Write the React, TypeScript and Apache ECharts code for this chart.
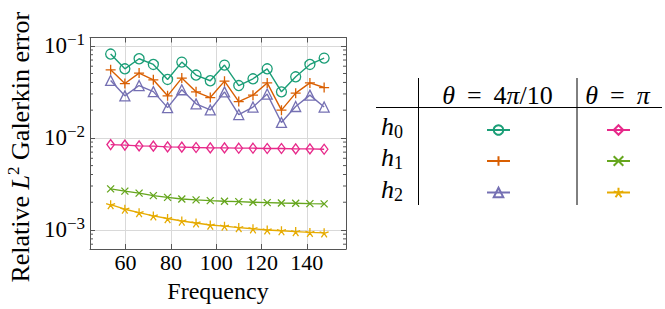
import React, { useEffect, useRef } from 'react';
import * as echarts from 'echarts';

const FONT = "'Liberation Serif', 'Times New Roman', serif";

const frequencies = [53.41, 59.69, 65.97, 72.26, 78.54, 84.82, 91.11, 97.39, 103.67, 109.96, 116.24, 122.52, 128.81, 135.09, 141.37, 147.65];

const h0Theta4 = [0.0813, 0.0562, 0.0723, 0.0627, 0.0431, 0.0665, 0.0481, 0.0417, 0.0617, 0.037, 0.0438, 0.0562, 0.0316, 0.046, 0.0627, 0.0735];
const h1Theta4 = [0.0548, 0.0389, 0.0505, 0.0427, 0.0286, 0.0446, 0.0316, 0.0274, 0.0413, 0.0248, 0.0291, 0.0395, 0.02, 0.0306, 0.0395, 0.0352];
const h2Theta4 = [0.042, 0.0286, 0.037, 0.0318, 0.0213, 0.0333, 0.0234, 0.0201, 0.0316, 0.0179, 0.0216, 0.0299, 0.0147, 0.0219, 0.0291, 0.0216];
const h0ThetaPi = [0.00845, 0.00834, 0.00818, 0.00813, 0.00798, 0.00793, 0.00785, 0.00778, 0.00778, 0.00773, 0.00773, 0.00766, 0.00766, 0.00759, 0.00759, 0.00753];
const h1ThetaPi = [0.00279, 0.00264, 0.00251, 0.00236, 0.00226, 0.00217, 0.00212, 0.00208, 0.00205, 0.00203, 0.002, 0.00198, 0.00196, 0.00195, 0.00193, 0.00192];
const h2ThetaPi = [0.00188, 0.00168, 0.00154, 0.00142, 0.00133, 0.00125, 0.00119, 0.00113, 0.0011, 0.00106, 0.00103, 0.001, 0.00098, 0.00096, 0.00094, 0.00093];

const minorTickValues = [7e-4, 8e-4, 9e-4, 2e-3, 3e-3, 4e-3, 5e-3, 6e-3, 7e-3, 8e-3, 9e-3, 2e-2, 3e-2, 4e-2, 5e-2, 6e-2, 7e-2, 8e-2, 9e-2];

const tableColumns = ['{i|θ}{o|=}{n|4}{i|π}{n|/10}', '{i|θ}{o|=}{i|π}'];
const tableRows = ['0', '1', '2'];

const PLUS = 'path://M5,0L5,10M0,5L10,5';
const CROSS = 'path://M0,0L10,10M0,10L10,0';
const STAR = 'path://M5,5L5,0M5,5L9.755,3.455M5,5L7.939,9.045M5,5L2.061,9.045M5,5L0.245,3.455';

const seriesDefs = [
  { name: 'h0 θ=4π/10', data: h0Theta4, color: '#1b9e77', symbol: 'circle', size: 10 as any, col: 0, row: 0 },
  { name: 'h1 θ=4π/10', data: h1Theta4, color: '#d95f02', symbol: PLUS, size: 10 as any, col: 0, row: 1 },
  { name: 'h2 θ=4π/10', data: h2Theta4, color: '#7570b3', symbol: 'triangle', size: 10 as any, col: 0, row: 2 },
  { name: 'h0 θ=π', data: h0ThetaPi, color: '#e7298a', symbol: 'diamond', size: [7.5, 10] as any, col: 1, row: 0 },
  { name: 'h1 θ=π', data: h1ThetaPi, color: '#66a61e', symbol: CROSS, size: 7 as any, col: 1, row: 1 },
  { name: 'h2 θ=π', data: h2ThetaPi, color: '#e6ab02', symbol: STAR, size: 9 as any, col: 1, row: 2 },
];

const colX = [497.5, 617.5];
const rowY = [130, 161, 192.5];
const rowLabelY = [126, 157, 189];

const AXIS_COLOR = '#555';
const GRID_COLOR = '#d9d9d9';

export default function App() {
  const ref = useRef<HTMLDivElement>(null);
  useEffect(() => {
    if (!ref.current) return;
    const chart = echarts.init(ref.current, null, { renderer: 'svg' });
    const xMin = 44.3, xMax = 157.3, yMin = 6.21e-4, yMax = 0.123;
    const axisLine = { show: true, lineStyle: { color: AXIS_COLOR, width: 1 } };
    const axisTick = { show: true, inside: true, length: 5, lineStyle: { color: AXIS_COLOR, width: 1 } };
    const headRich = {
      i: { fontFamily: FONT, fontSize: 26, fontStyle: 'italic', fill: '#000', color: '#000' },
      n: { fontFamily: FONT, fontSize: 26, fill: '#000', color: '#000' },
      o: { fontFamily: FONT, fontSize: 26, fill: '#000', color: '#000', padding: [0, 12, 0, 12] },
    };

    const option: any = {
      animation: false,
      backgroundColor: '#fff',
      grid: { left: 90, right: 319, top: 37.5, bottom: 60 },
      xAxis: [
        {
          type: 'value', min: xMin, max: xMax, position: 'bottom',
          axisLine, axisTick,
          splitLine: { show: true, lineStyle: { color: GRID_COLOR, width: 1 } },
          axisLabel: { fontFamily: FONT, fontSize: 22, color: '#000', margin: 2, showMinLabel: false, showMaxLabel: false },
          name: 'Frequency', nameLocation: 'middle', nameGap: 30,
          nameTextStyle: { fontFamily: FONT, fontSize: 24, color: '#000' },
        },
        {
          type: 'value', min: xMin, max: xMax, position: 'top',
          axisLine, axisTick, axisLabel: { show: false }, splitLine: { show: false },
        },
      ],
      yAxis: [
        {
          type: 'log', logBase: 10, min: yMin, max: yMax, position: 'left',
          axisLine, axisTick,
          splitLine: { show: true, lineStyle: { color: GRID_COLOR, width: 1 } },
          axisLabel: {
            margin: 5, showMinLabel: false, showMaxLabel: false,
            formatter: (v: number) => {
              const l = Math.log10(v);
              const e = Math.round(l);
              if (Math.abs(l - e) > 1e-6) return '';
              return '{b|10}{s|' + (e < 0 ? '−' + (-e) : String(e)) + '}';
            },
            rich: {
              b: { fontFamily: FONT, fontSize: 23, lineHeight: 30, color: '#000' },
              s: { fontFamily: FONT, fontSize: 17, lineHeight: 18, verticalAlign: 'top', color: '#000' },
            },
          },
          name: 'Relative {i|L}{s|2} Galerkin error', nameLocation: 'middle', nameGap: 55,
          nameTextStyle: {
            fontFamily: FONT, fontSize: 26, color: '#000', lineHeight: 30, padding: [0, 8, 0, 0],
            rich: {
              i: { fontFamily: FONT, fontSize: 26, fontStyle: 'italic', color: '#000', lineHeight: 30 },
              s: { fontFamily: FONT, fontSize: 17, color: '#000', lineHeight: 18, verticalAlign: 'top' },
            },
          },
        },
        {
          type: 'log', logBase: 10, min: yMin, max: yMax, position: 'right',
          axisLine, axisTick, axisLabel: { show: false }, splitLine: { show: false },
        },
      ],
      legend: seriesDefs.map((s) => ({
        data: [s.name],
        left: colX[s.col] - 11.5,
        top: rowY[s.row] - 6,
        itemWidth: 23,
        itemHeight: 12,
        padding: 0,
        itemGap: 0,
        selectedMode: false,
        formatter: () => '',
        textStyle: { fontSize: 1 },
      })),
      series: [
        ...seriesDefs.map((s) => ({
          type: 'line',
          name: s.name,
          xAxisIndex: 0,
          yAxisIndex: 0,
          data: frequencies.map((f, i) => [f, s.data[i]]),
          symbol: s.symbol,
          symbolSize: s.size,
          showAllSymbol: true,
          lineStyle: { color: s.color, width: 1.4 },
          itemStyle: { color: 'transparent', borderColor: s.color, borderWidth: 1.3 },
          emphasis: { disabled: true },
          z: 3,
        })),
        {
          type: 'custom',
          name: 'minorTicks',
          silent: true,
          xAxisIndex: 0,
          yAxisIndex: 0,
          data: minorTickValues.map((v) => [100, v]),
          renderItem: (params: any, api: any) => {
            const pt = api.coord([api.value(0), api.value(1)]);
            const cs = params.coordSys;
            const st = { stroke: AXIS_COLOR, lineWidth: 1 };
            return {
              type: 'group',
              children: [
                { type: 'line', shape: { x1: cs.x, y1: pt[1], x2: cs.x + 3, y2: pt[1] }, style: st },
                { type: 'line', shape: { x1: cs.x + cs.width - 3, y1: pt[1], x2: cs.x + cs.width, y2: pt[1] }, style: st },
              ],
            };
          },
          z: 2,
        },
      ],
      graphic: [
        { type: 'line', shape: { x1: 376, y1: 107.5, x2: 662, y2: 107.5 }, style: { stroke: '#000', lineWidth: 1 } },
        { type: 'line', shape: { x1: 418.5, y1: 78, x2: 418.5, y2: 205 }, style: { stroke: '#000', lineWidth: 1 } },
        { type: 'line', shape: { x1: 577, y1: 78, x2: 577, y2: 205 }, style: { stroke: '#000', lineWidth: 1 } },
        ...tableColumns.map((t, i) => ({
          type: 'text', x: colX[i], y: 95.5,
          style: {
            text: t, fontFamily: FONT, fontSize: 26, fill: '#000',
            align: 'center', verticalAlign: 'middle', textAlign: 'center', textVerticalAlign: 'middle',
            rich: headRich,
          },
        })),
        ...tableRows.map((r, i) => ({
          type: 'text', x: 392, y: rowLabelY[i],
          style: {
            text: '{h|h}{s|' + r + '}', fontFamily: FONT, fill: '#000',
            align: 'center', verticalAlign: 'middle', textAlign: 'center', textVerticalAlign: 'middle',
            rich: {
              h: { fontFamily: FONT, fontSize: 26, fontStyle: 'italic', lineHeight: 30, fill: '#000' },
              s: { fontFamily: FONT, fontSize: 18, lineHeight: 12, verticalAlign: 'bottom', fill: '#000' },
            },
          },
        })),
      ],
    };
    chart.setOption(option);
    return () => chart.dispose();
  }, []);
  return <div ref={ref} style={{ position: 'fixed', left: 0, top: 0, width: 665, height: 309 }} />;
}
